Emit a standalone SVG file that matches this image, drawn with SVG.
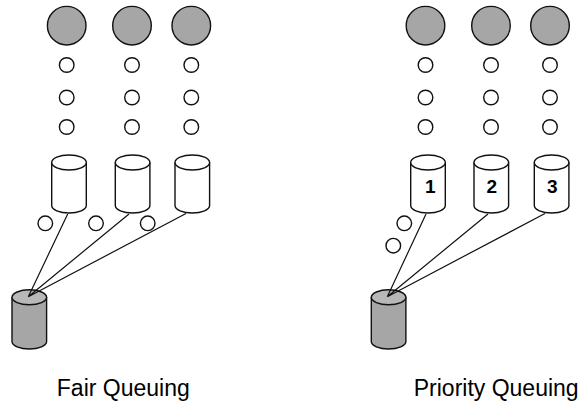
<svg xmlns="http://www.w3.org/2000/svg" width="579" height="405" viewBox="0 0 579 405">
<style>
.s{fill:#fff;stroke:#111;stroke-width:1.4}
.b{fill:#a6a6a6;stroke:#111;stroke-width:1.4}
.w{fill:#fff;stroke:#111;stroke-width:1.4}
.g{fill:#a6a6a6;stroke:#111;stroke-width:1.4}
.t{fill:#b8b8b8;stroke:#111;stroke-width:1.4}
.l{stroke:#111;stroke-width:1.2;fill:none}
.n{font:bold 19px "Liberation Sans",Arial,sans-serif;text-anchor:middle;fill:#000}
.c{font:23px "Liberation Sans",Arial,sans-serif;text-anchor:middle;fill:#000}
</style>
<defs>
<g id="cyl"><path d="M0 7.5V50.5A17.3 7.5 0 0 0 34.6 50.5V7.5"/><ellipse cx="17.3" cy="7.5" rx="17.3" ry="7.5"/></g>
</defs>
<g id="fair-sources">
<circle class="b" cx="66.7" cy="25.7" r="19.3"/><circle class="b" cx="132" cy="25.7" r="19.3"/><circle class="b" cx="191.3" cy="25.7" r="19.3"/>
<circle class="s" cx="66.7" cy="65" r="7.3"/><circle class="s" cx="132" cy="65" r="7.3"/><circle class="s" cx="191.3" cy="65" r="7.3"/>
<circle class="s" cx="66.7" cy="97.5" r="7.3"/><circle class="s" cx="132" cy="97.5" r="7.3"/><circle class="s" cx="191.3" cy="97.5" r="7.3"/>
<circle class="s" cx="66.7" cy="127" r="7.3"/><circle class="s" cx="132" cy="127" r="7.3"/><circle class="s" cx="191.3" cy="127" r="7.3"/>
</g>
<g id="priority-sources">
<circle class="b" cx="425.5" cy="25.7" r="19.3"/><circle class="b" cx="491" cy="25.7" r="19.3"/><circle class="b" cx="550" cy="25.7" r="19.3"/>
<circle class="s" cx="425.5" cy="65" r="7.3"/><circle class="s" cx="491" cy="65" r="7.3"/><circle class="s" cx="550" cy="65" r="7.3"/>
<circle class="s" cx="425.5" cy="97.5" r="7.3"/><circle class="s" cx="491" cy="97.5" r="7.3"/><circle class="s" cx="550" cy="97.5" r="7.3"/>
<circle class="s" cx="425.5" cy="127" r="7.3"/><circle class="s" cx="491" cy="127" r="7.3"/><circle class="s" cx="550" cy="127" r="7.3"/>
</g>
<g id="fair-queues">
<use href="#cyl" class="w" x="51.7" y="155"/><use href="#cyl" class="w" x="115.3" y="155"/><use href="#cyl" class="w" x="175" y="155"/>
</g>
<g id="priority-queues">
<use href="#cyl" class="w" x="410.7" y="155"/><use href="#cyl" class="w" x="474" y="155"/><use href="#cyl" class="w" x="534.3" y="155"/>
<text class="n" x="430.3" y="193">1</text><text class="n" x="491.7" y="193">2</text><text class="n" x="552.3" y="193">3</text>
</g>
<g id="fair-server"><path class="g" d="M12 297.3V341.5A17.3 7.5 0 0 0 46.6 341.5V297.3"/><ellipse class="t" cx="29.3" cy="297.3" rx="17.3" ry="7.5"/></g>
<g id="priority-server"><path class="g" d="M371.3 297.3V341.5A17.3 7.5 0 0 0 405.9 341.5V297.3"/><ellipse class="t" cx="388.6" cy="297.3" rx="17.3" ry="7.5"/></g>
<g id="packets">
<circle class="s" cx="45.3" cy="223.3" r="7.3"/><circle class="s" cx="96" cy="223.3" r="7.3"/><circle class="s" cx="147.7" cy="223.3" r="7.3"/>
<circle class="s" cx="404.3" cy="223.3" r="7.3"/><circle class="s" cx="393.3" cy="245.7" r="7.3"/>
</g>
<g id="connectors">
<path class="l" d="M67.7 214L28.3 296.7M129 214L28.3 296.7M186 213.5L28.3 296.7"/>
<path class="l" d="M426 214L387.3 296.7M488 214L387.3 296.7M545 213.5L387.3 296.7"/>
</g>
<g id="captions">
<text class="c" x="123.3" y="396">Fair Queuing</text><text class="c" x="496.2" y="396">Priority Queuing</text>
</g>
</svg>
